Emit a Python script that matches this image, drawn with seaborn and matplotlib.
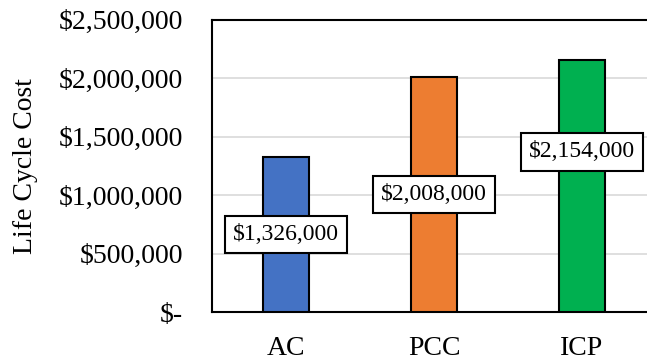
import matplotlib
matplotlib.use("Agg")
import matplotlib.pyplot as plt
import seaborn as sns
import pandas as pd
from matplotlib.ticker import FuncFormatter

categories = ["AC", "PCC", "ICP"]
life_cycle_cost = [1326000, 2008000, 2154000]
bar_colors = ["#4472C4", "#ED7D31", "#00B050"]
y_ticks = [0, 500000, 1000000, 1500000, 2000000, 2500000]

# vertical placement of each value label, as a fraction of its bar height
label_frac = [0.5, 0.5, 0.635]

sns.set_theme(style="white")
plt.rcParams["font.family"] = ["Liberation Serif", "DejaVu Serif"]

df = pd.DataFrame({"Pavement": categories, "Cost": life_cycle_cost})

fig = plt.figure(figsize=(6.47, 3.6), dpi=100)
ax = fig.add_axes([212 / 647, 48 / 360, 444 / 647, 292.5 / 360])

sns.barplot(data=df, x="Pavement", y="Cost", hue="Pavement",
            palette=bar_colors, order=categories, hue_order=categories,
            width=0.31, edgecolor="black", linewidth=1.5, saturation=1,
            legend=False, ax=ax, zorder=3)

ax.set_xlim(-0.5, 2.5)
ax.set_ylim(0, 2500000)
ax.set_yticks(y_ticks)
ax.yaxis.set_major_formatter(
    FuncFormatter(lambda v, _: "$-" if v == 0 else f"${v:,.0f}"))

ax.grid(axis="y", color="#D9D9D9", linewidth=1.2, zorder=0)
ax.set_axisbelow(True)
for side in ["left", "bottom", "top", "right"]:
    ax.spines[side].set_visible(True)
    ax.spines[side].set_color("black")
    ax.spines[side].set_linewidth(1.5)

ax.tick_params(axis="both", length=0, labelsize=20, colors="black")
ax.tick_params(axis="y", pad=21)
ax.tick_params(axis="x", pad=17)

ax.set_xlabel("")
ax.set_ylabel("Life Cycle Cost", fontsize=20, color="black")
ax.yaxis.set_label_coords(-0.392, 0.5)

for i, (cost, frac) in enumerate(zip(life_cycle_cost, label_frac)):
    ax.text(i, cost * frac, f"${cost:,.0f}", ha="center", va="center",
            fontsize=17, color="black", zorder=5,
            bbox=dict(boxstyle="square,pad=0.35", facecolor="white",
                      edgecolor="black", linewidth=1.5))

fig.savefig("out.png", dpi=100)
